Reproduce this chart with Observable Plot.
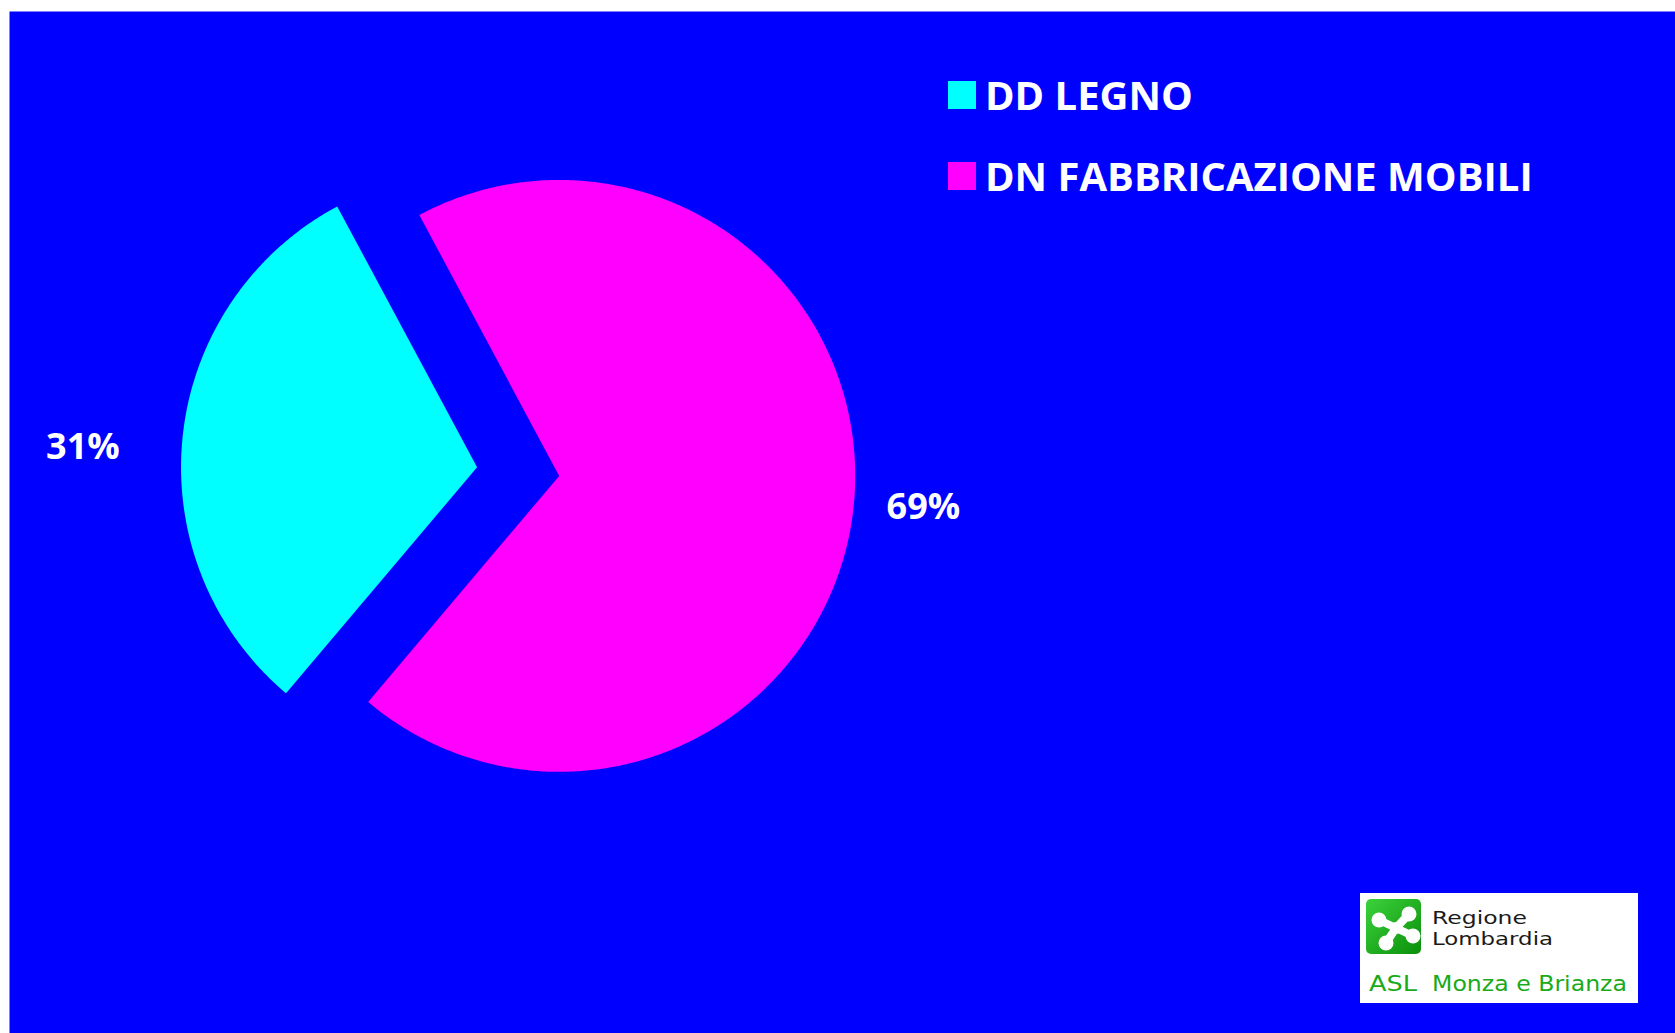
<!DOCTYPE html>
<html><head><meta charset="utf-8">
<script src="https://cdn.jsdelivr.net/npm/d3@7"></script>
<script src="https://cdn.jsdelivr.net/npm/@observablehq/plot@0.6"></script>
<style>
html,body{margin:0;padding:0;background:#fff;}
#wrap{position:relative;width:1675px;height:1033px;overflow:hidden;}
#wrap > svg{display:block;}
#overlay{position:absolute;left:0;top:0;}
</style></head><body>
<div id="wrap"></div>
<script>
// ---- data ----
const categories = ["DD LEGNO", "DN FABBRICAZIONE MOBILI"];
const shares = [31, 69];
const labels = ["31%", "69%"];
const colors = ["#00ffff", "#ff00ff"];

// ---- layout / style ----
const W = 1675, H = 1033;
const startDeg = 220.2;                 // first slice starts here (clockwise from 12 o'clock)
const explode = {"DD LEGNO": 0.279};    // explosion in radius units
const labelRx = 1.288;                  // label distance (horizontal) in radius units
const labelRy = 0.65 * 1.288;           // label distance (vertical) in radius units
const fontMain = "'Open Sans', 'DejaVu Sans', sans-serif";

const pie = d3.pie().sort(null).value(d => d.share)
  .startAngle(startDeg * Math.PI / 180)
  .endAngle(startDeg * Math.PI / 180 + 2 * Math.PI);
const slices = pie(categories.map((c, i) => ({category: c, share: shares[i], label: labels[i]})));

const pts = [];
const labelData = [];
for (const s of slices) {
  const c = s.data.category;
  const mid = (s.startAngle + s.endAngle) / 2;
  const e = explode[c] || 0;
  const ox = e * Math.sin(mid), oy = e * Math.cos(mid);
  pts.push({category: c, x: ox, y: oy});
  const n = Math.ceil((s.endAngle - s.startAngle) / (Math.PI / 360));
  for (let k = 0; k <= n; k++) {
    const a = s.startAngle + (s.endAngle - s.startAngle) * k / n;
    pts.push({category: c, x: ox + Math.sin(a), y: oy + Math.cos(a)});
  }
  labelData.push({text: s.data.label, x: ox + labelRx * Math.sin(mid), y: oy + labelRy * Math.cos(mid)});
}

const chart = Plot.plot({
  width: W, height: H,
  marginLeft: 9, marginTop: 11, marginRight: 0, marginBottom: 0,
  style: {background: "#ffffff", overflow: "visible"},
  x: {domain: [-1.857, 3.771], axis: null},
  y: {domain: [-1.884, 1.569], axis: null},
  color: {type: "ordinal", domain: categories, range: colors, legend: false},
  marks: [
    Plot.frame({fill: "#0000ff", stroke: "none"}),
    Plot.line(pts, {x: "x", y: "y", z: "category", fill: "category", stroke: "none", curve: "linear-closed"}),
    Plot.text(labelData, {x: "x", y: "y", text: "text", dx: -15, dy: 6, fill: "#ffffff", fontSize: 36, fontWeight: "bold", fontFamily: fontMain})
  ]
});
document.getElementById("wrap").appendChild(chart);

// ---- legend + logo overlay ----
const ov = d3.select("#wrap").append("svg").attr("id", "overlay").attr("width", W).attr("height", H);
categories.forEach((c, i) => {
  const y0 = 81 + i * 81;
  ov.append("rect").attr("x", 948).attr("y", y0).attr("width", 28).attr("height", 28).attr("fill", colors[i]);
  ov.append("text").attr("x", 985).attr("y", y0 + 29).text(c)
    .attr("fill", "#ffffff").attr("font-family", fontMain).attr("font-weight", "bold").attr("font-size", 40);
});

const defs = ov.append("defs");
const grad = defs.append("linearGradient").attr("id", "lg").attr("x1", 0).attr("y1", 0).attr("x2", 1).attr("y2", 1);
grad.append("stop").attr("offset", "0%").attr("stop-color", "#3cd23c");
grad.append("stop").attr("offset", "100%").attr("stop-color", "#0a8f0a");

const logo = ov.append("g");
logo.append("rect").attr("x", 1360).attr("y", 893).attr("width", 278).attr("height", 110).attr("fill", "#ffffff");
logo.append("rect").attr("x", 1366).attr("y", 899).attr("width", 55).attr("height", 55).attr("rx", 5).attr("fill", "url(#lg)");
const cx0 = 1396, cy0 = 928;
const lobes = [[1379, 920], [1409, 914], [1413, 936], [1386, 943]];
lobes.forEach(([lx, ly]) => {
  logo.append("line").attr("x1", cx0).attr("y1", cy0).attr("x2", lx).attr("y2", ly)
    .attr("stroke", "#ffffff").attr("stroke-width", 8).attr("stroke-linecap", "round");
  logo.append("circle").attr("cx", lx).attr("cy", ly).attr("r", 7.5).attr("fill", "#ffffff");
});
logo.append("circle").attr("cx", cx0).attr("cy", cy0).attr("r", 6).attr("fill", "#ffffff");
const lf = "'DejaVu Sans', sans-serif";
logo.append("text").attr("x", 1432).attr("y", 923.5).text("Regione").attr("font-family", lf).attr("font-size", 18)
  .attr("fill", "#1a1a1a").attr("textLength", 95).attr("lengthAdjust", "spacingAndGlyphs");
logo.append("text").attr("x", 1432).attr("y", 945).text("Lombardia").attr("font-family", lf).attr("font-size", 18)
  .attr("fill", "#1a1a1a").attr("textLength", 121).attr("lengthAdjust", "spacingAndGlyphs");
logo.append("text").attr("x", 1369).attr("y", 991).text("ASL").attr("font-family", lf).attr("font-size", 21)
  .attr("fill", "#1aaa1a").attr("textLength", 48).attr("lengthAdjust", "spacingAndGlyphs");
logo.append("text").attr("x", 1432).attr("y", 991).text("Monza e Brianza").attr("font-family", lf).attr("font-size", 21)
  .attr("fill", "#1aaa1a").attr("textLength", 195).attr("lengthAdjust", "spacingAndGlyphs");
</script>
</body></html>
